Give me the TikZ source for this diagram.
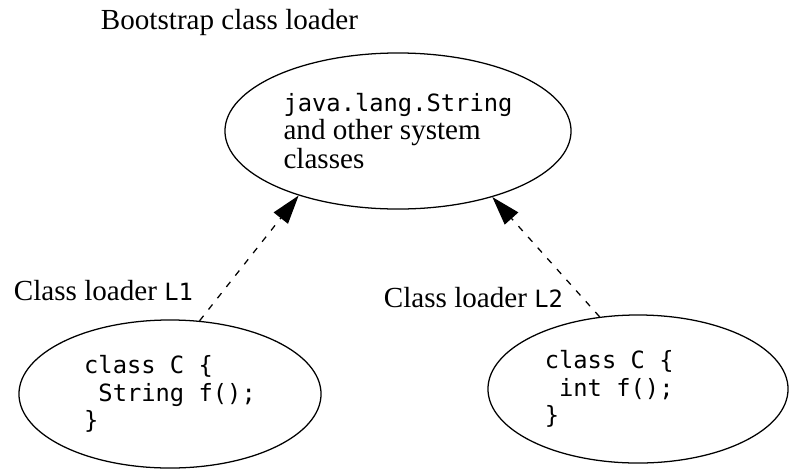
\documentclass[tikz,border=0pt]{standalone}
\usepackage{fontspec}
\setmainfont{Liberation Serif}
\setmonofont{DejaVu Sans Mono}
\usetikzlibrary{shapes.geometric, arrows.meta}
\newcommand{\cf}{\fontsize{16.9}{19.6}\selectfont\ttfamily}
\newcommand{\lead}{\hphantom{x}}

\begin{document}
\begin{tikzpicture}[x=0.025cm,y=-0.025cm,
    font=\fontsize{20.7}{20.3}\selectfont,
    loader/.style={ellipse,draw,line width=0.9pt,inner sep=0pt,align=left},
    dep/.style={line width=0.9pt,dash pattern=on 0.16cm off 0.2cm,-{Triangle[length=0.72cm,width=0.45cm]}}]
    \useasboundingbox (0,0) rectangle (789,469);
    \node[anchor=base west] (bootlabel) at (96,29) {Bootstrap class loader};
    \node[loader,minimum width=8.65cm,minimum height=3.9cm] (boot) at (398,131)
        {{\cf java.lang.String}\\and other system\\classes};
    \node[loader,minimum width=7.55cm,minimum height=3.7cm,font=\cf] (l1) at (170,394)
        {class C \{\\\lead String f();\\\}};
    \node[loader,minimum width=7.5cm,minimum height=3.7cm,
        label={[font=\cf,align=left,xshift=-0.72cm]center:class C \{\\\lead int f();\\\}}] (l2) at (638,389) {};
    \node[anchor=base west] (l1label) at (9,300) {Class loader {\cf L1}};
    \node[anchor=base west] (l2label) at (379,307) {Class loader {\cf L2}};
    \draw[dep] (l1.68) -- (boot.213);
    \draw[dep] (l2.118) -- (boot.325);
\end{tikzpicture}
\end{document}
